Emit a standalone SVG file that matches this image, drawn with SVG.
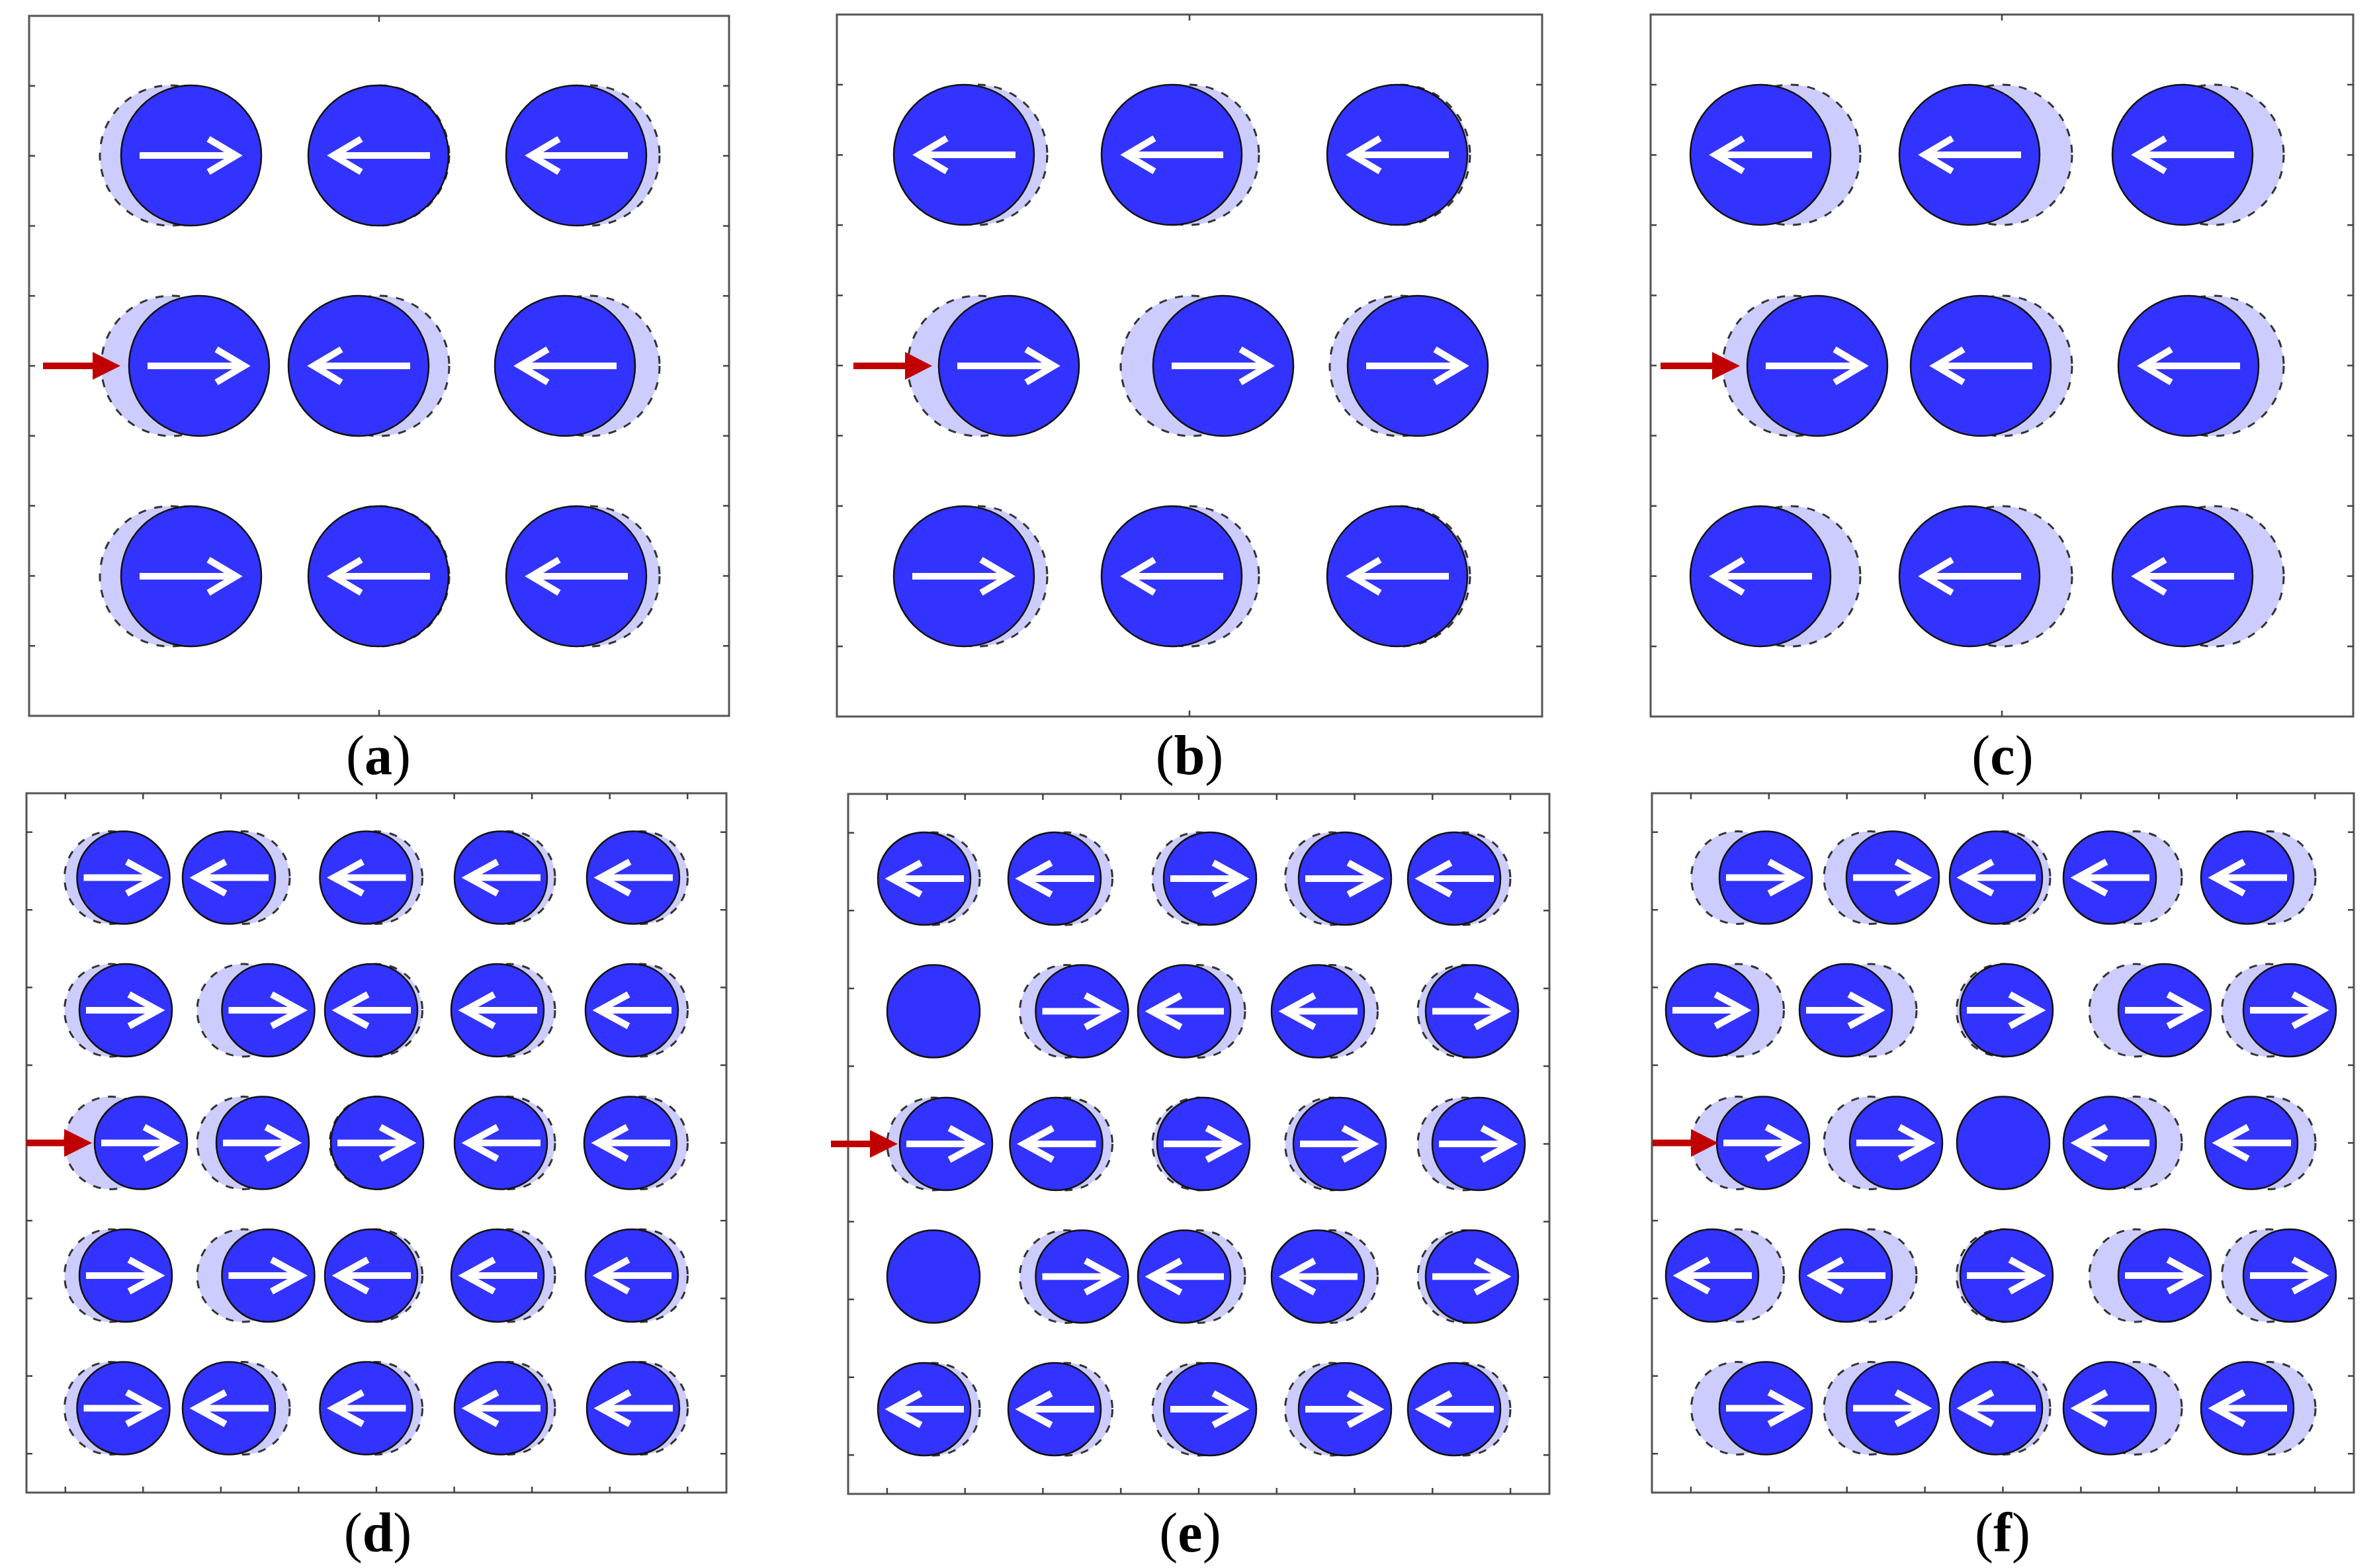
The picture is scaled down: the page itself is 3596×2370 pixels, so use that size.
<svg xmlns="http://www.w3.org/2000/svg" xmlns:xlink="http://www.w3.org/1999/xlink" width="3596" height="2370" viewBox="0 0 3596 2370">
<style>
.g{fill:#ccccff;stroke:#333;stroke-width:3;stroke-dasharray:12 13}
.s{fill:#3333ff;stroke:#111;stroke-width:2.5}
.w{fill:none;stroke:#fff;stroke-width:10;stroke-linejoin:miter;stroke-linecap:butt}
.fr{fill:#fff;stroke:#555;stroke-width:3}
.tk{fill:none;stroke:#444;stroke-width:2.5}
.rl{stroke:#c00000;stroke-width:10}
.rh{fill:#c00000}
.lb{font-family:"Liberation Serif","Times New Roman",serif;font-size:84px;fill:#000;text-anchor:middle}
.lb tspan{font-weight:bold}
</style>
<defs>
<circle id="gB" class="g" r="106"/>
<circle id="sB" class="s" r="106"/>
<circle id="gS" class="g" r="70"/>
<circle id="sS" class="s" r="70"/>
<path id="aBR" class="w" d="M-78 0H68M26-25L68 0L26 25"/>
<path id="aBL" class="w" d="M78 0H-68M-26-25L-68 0L-26 25"/>
<path id="aSR" class="w" d="M-60 0H49M5-24L49 0L5 24"/>
<path id="aSL" class="w" d="M60 0H-49M-5-24L-49 0L-5 24"/>
</defs>
<rect width="3596" height="2370" fill="#fff"/>

<g id="frames">
<rect class="fr" x="44" y="24" width="1058" height="1058"/>
<path class="tk" d="M44 129.8h9M44 235.6h9M44 341.4h9M44 447.2h9M44 553h9M44 658.8h9M44 764.6h9M44 870.4h9M44 976.2h9M1102 129.8h-9M1102 235.6h-9M1102 341.4h-9M1102 447.2h-9M1102 553h-9M1102 658.8h-9M1102 764.6h-9M1102 870.4h-9M1102 976.2h-9M573 24v9M573 1082v-9"/>
<rect class="fr" x="1265" y="22" width="1066" height="1061"/>
<path class="tk" d="M1265 128.1h9M1265 234.2h9M1265 340.3h9M1265 446.4h9M1265 552.5h9M1265 658.6h9M1265 764.7h9M1265 870.8h9M1265 976.9h9M2331 128.1h-9M2331 234.2h-9M2331 340.3h-9M2331 446.4h-9M2331 552.5h-9M2331 658.6h-9M2331 764.7h-9M2331 870.8h-9M2331 976.9h-9M1798 22v9M1798 1083v-9"/>
<rect class="fr" x="2495" y="22" width="1062" height="1061"/>
<path class="tk" d="M2495 128.1h9M2495 234.2h9M2495 340.3h9M2495 446.4h9M2495 552.5h9M2495 658.6h9M2495 764.7h9M2495 870.8h9M2495 976.9h9M3557 128.1h-9M3557 234.2h-9M3557 340.3h-9M3557 446.4h-9M3557 552.5h-9M3557 658.6h-9M3557 764.7h-9M3557 870.8h-9M3557 976.9h-9M3026 22v9M3026 1083v-9"/>
<rect class="fr" x="40" y="1199" width="1058" height="1057"/>
<path class="tk" d="M40 1257.7h9M40 1375.2h9M40 1492.6h9M40 1610h9M40 1727.5h9M40 1845h9M40 1962.4h9M40 2079.8h9M40 2197.3h9M1098 1257.7h-9M1098 1375.2h-9M1098 1492.6h-9M1098 1610h-9M1098 1727.5h-9M1098 1845h-9M1098 1962.4h-9M1098 2079.8h-9M1098 2197.3h-9M98.8 1199v9M216.3 1199v9M333.9 1199v9M451.4 1199v9M569 1199v9M686.6 1199v9M804.1 1199v9M921.7 1199v9M1039.2 1199v9M98.8 2256v-9M216.3 2256v-9M333.9 2256v-9M451.4 2256v-9M569 2256v-9M686.6 2256v-9M804.1 2256v-9M921.7 2256v-9M1039.2 2256v-9"/>
<rect class="fr" x="1282" y="1200" width="1060" height="1058"/>
<path class="tk" d="M1282 1258.8h9M1282 1376.3h9M1282 1493.9h9M1282 1611.4h9M1282 1729h9M1282 1846.6h9M1282 1964.1h9M1282 2081.7h9M1282 2199.2h9M2342 1258.8h-9M2342 1376.3h-9M2342 1493.9h-9M2342 1611.4h-9M2342 1729h-9M2342 1846.6h-9M2342 1964.1h-9M2342 2081.7h-9M2342 2199.2h-9M1340.9 1200v9M1458.7 1200v9M1576.4 1200v9M1694.2 1200v9M1812 1200v9M1929.8 1200v9M2047.6 1200v9M2165.3 1200v9M2283.1 1200v9M1340.9 2258v-9M1458.7 2258v-9M1576.4 2258v-9M1694.2 2258v-9M1812 2258v-9M1929.8 2258v-9M2047.6 2258v-9M2165.3 2258v-9M2283.1 2258v-9"/>
<rect class="fr" x="2497" y="1199" width="1061" height="1057"/>
<path class="tk" d="M2497 1257.7h9M2497 1375.2h9M2497 1492.6h9M2497 1610h9M2497 1727.5h9M2497 1845h9M2497 1962.4h9M2497 2079.8h9M2497 2197.3h9M3558 1257.7h-9M3558 1375.2h-9M3558 1492.6h-9M3558 1610h-9M3558 1727.5h-9M3558 1845h-9M3558 1962.4h-9M3558 2079.8h-9M3558 2197.3h-9M2555.9 1199v9M2673.8 1199v9M2791.7 1199v9M2909.6 1199v9M3027.5 1199v9M3145.4 1199v9M3263.3 1199v9M3381.2 1199v9M3499.1 1199v9M2555.9 2256v-9M2673.8 2256v-9M2791.7 2256v-9M2909.6 2256v-9M3027.5 2256v-9M3145.4 2256v-9M3263.3 2256v-9M3381.2 2256v-9M3499.1 2256v-9"/>
</g>

<!-- panel a -->
<g id="a-r1c1"><use href="#gB" x="257" y="235"/><use href="#sB" x="289" y="235"/><use href="#aBR" x="289" y="235"/></g>
<g id="a-r1c2"><use href="#gB" x="573" y="235"/><use href="#sB" x="572" y="235"/><use href="#aBL" x="572" y="235"/></g>
<g id="a-r1c3"><use href="#gB" x="891" y="235"/><use href="#sB" x="871" y="235"/><use href="#aBL" x="871" y="235"/></g>
<g id="a-r2c1"><use href="#gB" x="259" y="553"/><use href="#sB" x="301" y="553"/><use href="#aBR" x="301" y="553"/></g>
<g id="a-r2c2"><use href="#gB" x="573" y="553"/><use href="#sB" x="542" y="553"/><use href="#aBL" x="542" y="553"/></g>
<g id="a-r2c3"><use href="#gB" x="891" y="553"/><use href="#sB" x="854" y="553"/><use href="#aBL" x="854" y="553"/></g>
<g id="a-r3c1"><use href="#gB" x="257" y="871"/><use href="#sB" x="289" y="871"/><use href="#aBR" x="289" y="871"/></g>
<g id="a-r3c2"><use href="#gB" x="573" y="871"/><use href="#sB" x="572" y="871"/><use href="#aBL" x="572" y="871"/></g>
<g id="a-r3c3"><use href="#gB" x="891" y="871"/><use href="#sB" x="871" y="871"/><use href="#aBL" x="871" y="871"/></g>

<!-- panel b -->
<g id="b-r1c1"><use href="#gB" x="1477" y="234"/><use href="#sB" x="1457" y="234"/><use href="#aBL" x="1457" y="234"/></g>
<g id="b-r1c2"><use href="#gB" x="1797" y="234"/><use href="#sB" x="1771" y="234"/><use href="#aBL" x="1771" y="234"/></g>
<g id="b-r1c3"><use href="#gB" x="2116" y="234"/><use href="#sB" x="2112" y="234"/><use href="#aBL" x="2112" y="234"/></g>
<g id="b-r2c1"><use href="#gB" x="1478" y="553"/><use href="#sB" x="1525" y="553"/><use href="#aBR" x="1525" y="553"/></g>
<g id="b-r2c2"><use href="#gB" x="1800" y="553"/><use href="#sB" x="1849" y="553"/><use href="#aBR" x="1849" y="553"/></g>
<g id="b-r2c3"><use href="#gB" x="2116" y="553"/><use href="#sB" x="2143" y="553"/><use href="#aBR" x="2143" y="553"/></g>
<g id="b-r3c1"><use href="#gB" x="1477" y="871"/><use href="#sB" x="1457" y="871"/><use href="#aBR" x="1457" y="871"/></g>
<g id="b-r3c2"><use href="#gB" x="1797" y="871"/><use href="#sB" x="1771" y="871"/><use href="#aBL" x="1771" y="871"/></g>
<g id="b-r3c3"><use href="#gB" x="2116" y="871"/><use href="#sB" x="2112" y="871"/><use href="#aBL" x="2112" y="871"/></g>

<!-- panel c -->
<g id="c-r1c1"><use href="#gB" x="2706" y="234"/><use href="#sB" x="2661" y="234"/><use href="#aBL" x="2661" y="234"/></g>
<g id="c-r1c2"><use href="#gB" x="3026" y="234"/><use href="#sB" x="2977" y="234"/><use href="#aBL" x="2977" y="234"/></g>
<g id="c-r1c3"><use href="#gB" x="3346" y="234"/><use href="#sB" x="3299" y="234"/><use href="#aBL" x="3299" y="234"/></g>
<g id="c-r2c1"><use href="#gB" x="2710" y="553"/><use href="#sB" x="2747" y="553"/><use href="#aBR" x="2747" y="553"/></g>
<g id="c-r2c2"><use href="#gB" x="3026" y="553"/><use href="#sB" x="2994" y="553"/><use href="#aBL" x="2994" y="553"/></g>
<g id="c-r2c3"><use href="#gB" x="3346" y="553"/><use href="#sB" x="3308" y="553"/><use href="#aBL" x="3308" y="553"/></g>
<g id="c-r3c1"><use href="#gB" x="2706" y="871"/><use href="#sB" x="2661" y="871"/><use href="#aBL" x="2661" y="871"/></g>
<g id="c-r3c2"><use href="#gB" x="3026" y="871"/><use href="#sB" x="2977" y="871"/><use href="#aBL" x="2977" y="871"/></g>
<g id="c-r3c3"><use href="#gB" x="3346" y="871"/><use href="#sB" x="3299" y="871"/><use href="#aBL" x="3299" y="871"/></g>

<!-- panel d -->
<g id="d-r1c1"><use href="#gS" x="167.5" y="1326.5"/><use href="#sS" x="186.5" y="1326.5"/><use href="#aSR" x="186.5" y="1326.5"/></g>
<g id="d-r1c2"><use href="#gS" x="368" y="1326.5"/><use href="#sS" x="346" y="1326.5"/><use href="#aSL" x="346" y="1326.5"/></g>
<g id="d-r1c3"><use href="#gS" x="568.5" y="1326.5"/><use href="#sS" x="553.5" y="1326.5"/><use href="#aSL" x="553.5" y="1326.5"/></g>
<g id="d-r1c4"><use href="#gS" x="769" y="1326.5"/><use href="#sS" x="757" y="1326.5"/><use href="#aSL" x="757" y="1326.5"/></g>
<g id="d-r1c5"><use href="#gS" x="969.5" y="1326.5"/><use href="#sS" x="957" y="1326.5"/><use href="#aSL" x="957" y="1326.5"/></g>
<g id="d-r2c1"><use href="#gS" x="167.5" y="1527"/><use href="#sS" x="190" y="1527"/><use href="#aSR" x="190" y="1527"/></g>
<g id="d-r2c2"><use href="#gS" x="368" y="1527"/><use href="#sS" x="405.5" y="1527"/><use href="#aSR" x="405.5" y="1527"/></g>
<g id="d-r2c3"><use href="#gS" x="568.5" y="1527"/><use href="#sS" x="561" y="1527"/><use href="#aSL" x="561" y="1527"/></g>
<g id="d-r2c4"><use href="#gS" x="769" y="1527"/><use href="#sS" x="752" y="1527"/><use href="#aSL" x="752" y="1527"/></g>
<g id="d-r2c5"><use href="#gS" x="969.5" y="1527"/><use href="#sS" x="955" y="1527"/><use href="#aSL" x="955" y="1527"/></g>
<g id="d-r3c1"><use href="#gS" x="167.5" y="1727.5"/><use href="#sS" x="213" y="1727.5"/><use href="#aSR" x="213" y="1727.5"/></g>
<g id="d-r3c2"><use href="#gS" x="368" y="1727.5"/><use href="#sS" x="397" y="1727.5"/><use href="#aSR" x="397" y="1727.5"/></g>
<g id="d-r3c3"><use href="#gS" x="568.5" y="1727.5"/><use href="#sS" x="570" y="1727.5"/><use href="#aSR" x="570" y="1727.5"/></g>
<g id="d-r3c4"><use href="#gS" x="769" y="1727.5"/><use href="#sS" x="757" y="1727.5"/><use href="#aSL" x="757" y="1727.5"/></g>
<g id="d-r3c5"><use href="#gS" x="969.5" y="1727.5"/><use href="#sS" x="953" y="1727.5"/><use href="#aSL" x="953" y="1727.5"/></g>
<g id="d-r4c1"><use href="#gS" x="167.5" y="1928"/><use href="#sS" x="190" y="1928"/><use href="#aSR" x="190" y="1928"/></g>
<g id="d-r4c2"><use href="#gS" x="368" y="1928"/><use href="#sS" x="405.5" y="1928"/><use href="#aSR" x="405.5" y="1928"/></g>
<g id="d-r4c3"><use href="#gS" x="568.5" y="1928"/><use href="#sS" x="561" y="1928"/><use href="#aSL" x="561" y="1928"/></g>
<g id="d-r4c4"><use href="#gS" x="769" y="1928"/><use href="#sS" x="752" y="1928"/><use href="#aSL" x="752" y="1928"/></g>
<g id="d-r4c5"><use href="#gS" x="969.5" y="1928"/><use href="#sS" x="955" y="1928"/><use href="#aSL" x="955" y="1928"/></g>
<g id="d-r5c1"><use href="#gS" x="167.5" y="2128.5"/><use href="#sS" x="186.5" y="2128.5"/><use href="#aSR" x="186.5" y="2128.5"/></g>
<g id="d-r5c2"><use href="#gS" x="368" y="2128.5"/><use href="#sS" x="346" y="2128.5"/><use href="#aSL" x="346" y="2128.5"/></g>
<g id="d-r5c3"><use href="#gS" x="568.5" y="2128.5"/><use href="#sS" x="553.5" y="2128.5"/><use href="#aSL" x="553.5" y="2128.5"/></g>
<g id="d-r5c4"><use href="#gS" x="769" y="2128.5"/><use href="#sS" x="757" y="2128.5"/><use href="#aSL" x="757" y="2128.5"/></g>
<g id="d-r5c5"><use href="#gS" x="969.5" y="2128.5"/><use href="#sS" x="957" y="2128.5"/><use href="#aSL" x="957" y="2128.5"/></g>

<!-- panel e -->
<g id="e-r1c1"><use href="#gS" x="1411" y="1328"/><use href="#sS" x="1397" y="1328"/><use href="#aSL" x="1397" y="1328"/></g>
<g id="e-r1c2"><use href="#gS" x="1611.5" y="1328"/><use href="#sS" x="1594" y="1328"/><use href="#aSL" x="1594" y="1328"/></g>
<g id="e-r1c3"><use href="#gS" x="1812" y="1328"/><use href="#sS" x="1829" y="1328"/><use href="#aSR" x="1829" y="1328"/></g>
<g id="e-r1c4"><use href="#gS" x="2012.5" y="1328"/><use href="#sS" x="2033" y="1328"/><use href="#aSR" x="2033" y="1328"/></g>
<g id="e-r1c5"><use href="#gS" x="2213" y="1328"/><use href="#sS" x="2198" y="1328"/><use href="#aSL" x="2198" y="1328"/></g>
<g id="e-r2c1"><use href="#sS" x="1411" y="1528.5"/></g>
<g id="e-r2c2"><use href="#gS" x="1611.5" y="1528.5"/><use href="#sS" x="1635.5" y="1528.5"/><use href="#aSR" x="1635.5" y="1528.5"/></g>
<g id="e-r2c3"><use href="#gS" x="1812" y="1528.5"/><use href="#sS" x="1790" y="1528.5"/><use href="#aSL" x="1790" y="1528.5"/></g>
<g id="e-r2c4"><use href="#gS" x="2012.5" y="1528.5"/><use href="#sS" x="1992" y="1528.5"/><use href="#aSL" x="1992" y="1528.5"/></g>
<g id="e-r2c5"><use href="#gS" x="2213" y="1528.5"/><use href="#sS" x="2225" y="1528.5"/><use href="#aSR" x="2225" y="1528.5"/></g>
<g id="e-r3c1"><use href="#gS" x="1411" y="1729"/><use href="#sS" x="1430" y="1729"/><use href="#aSR" x="1430" y="1729"/></g>
<g id="e-r3c2"><use href="#gS" x="1611.5" y="1729"/><use href="#sS" x="1596.5" y="1729"/><use href="#aSL" x="1596.5" y="1729"/></g>
<g id="e-r3c3"><use href="#gS" x="1812" y="1729"/><use href="#sS" x="1819" y="1729"/><use href="#aSR" x="1819" y="1729"/></g>
<g id="e-r3c4"><use href="#gS" x="2012.5" y="1729"/><use href="#sS" x="2025" y="1729"/><use href="#aSR" x="2025" y="1729"/></g>
<g id="e-r3c5"><use href="#gS" x="2213" y="1729"/><use href="#sS" x="2235" y="1729"/><use href="#aSR" x="2235" y="1729"/></g>
<g id="e-r4c1"><use href="#sS" x="1411" y="1929.5"/></g>
<g id="e-r4c2"><use href="#gS" x="1611.5" y="1929.5"/><use href="#sS" x="1635.5" y="1929.5"/><use href="#aSR" x="1635.5" y="1929.5"/></g>
<g id="e-r4c3"><use href="#gS" x="1812" y="1929.5"/><use href="#sS" x="1790" y="1929.5"/><use href="#aSL" x="1790" y="1929.5"/></g>
<g id="e-r4c4"><use href="#gS" x="2012.5" y="1929.5"/><use href="#sS" x="1992" y="1929.5"/><use href="#aSL" x="1992" y="1929.5"/></g>
<g id="e-r4c5"><use href="#gS" x="2213" y="1929.5"/><use href="#sS" x="2225" y="1929.5"/><use href="#aSR" x="2225" y="1929.5"/></g>
<g id="e-r5c1"><use href="#gS" x="1411" y="2130"/><use href="#sS" x="1397" y="2130"/><use href="#aSL" x="1397" y="2130"/></g>
<g id="e-r5c2"><use href="#gS" x="1611.5" y="2130"/><use href="#sS" x="1594" y="2130"/><use href="#aSL" x="1594" y="2130"/></g>
<g id="e-r5c3"><use href="#gS" x="1812" y="2130"/><use href="#sS" x="1829" y="2130"/><use href="#aSR" x="1829" y="2130"/></g>
<g id="e-r5c4"><use href="#gS" x="2012.5" y="2130"/><use href="#sS" x="2033" y="2130"/><use href="#aSR" x="2033" y="2130"/></g>
<g id="e-r5c5"><use href="#gS" x="2213" y="2130"/><use href="#sS" x="2198" y="2130"/><use href="#aSL" x="2198" y="2130"/></g>

<!-- panel f -->
<g id="f-r1c1"><use href="#gS" x="2626.5" y="1326.5"/><use href="#sS" x="2669" y="1326.5"/><use href="#aSR" x="2669" y="1326.5"/></g>
<g id="f-r1c2"><use href="#gS" x="2827" y="1326.5"/><use href="#sS" x="2861" y="1326.5"/><use href="#aSR" x="2861" y="1326.5"/></g>
<g id="f-r1c3"><use href="#gS" x="3029" y="1326.5"/><use href="#sS" x="3017" y="1326.5"/><use href="#aSL" x="3017" y="1326.5"/></g>
<g id="f-r1c4"><use href="#gS" x="3228" y="1326.5"/><use href="#sS" x="3189" y="1326.5"/><use href="#aSL" x="3189" y="1326.5"/></g>
<g id="f-r1c5"><use href="#gS" x="3430" y="1326.5"/><use href="#sS" x="3397" y="1326.5"/><use href="#aSL" x="3397" y="1326.5"/></g>
<g id="f-r2c1"><use href="#gS" x="2626.5" y="1527"/><use href="#sS" x="2588" y="1527"/><use href="#aSR" x="2588" y="1527"/></g>
<g id="f-r2c2"><use href="#gS" x="2827" y="1527"/><use href="#sS" x="2790" y="1527"/><use href="#aSR" x="2790" y="1527"/></g>
<g id="f-r2c3"><use href="#gS" x="3027.5" y="1527"/><use href="#sS" x="3033" y="1527"/><use href="#aSR" x="3033" y="1527"/></g>
<g id="f-r2c4"><use href="#gS" x="3228" y="1527"/><use href="#sS" x="3272" y="1527"/><use href="#aSR" x="3272" y="1527"/></g>
<g id="f-r2c5"><use href="#gS" x="3428.5" y="1527"/><use href="#sS" x="3461" y="1527"/><use href="#aSR" x="3461" y="1527"/></g>
<g id="f-r3c1"><use href="#gS" x="2626.5" y="1727.5"/><use href="#sS" x="2665" y="1727.5"/><use href="#aSR" x="2665" y="1727.5"/></g>
<g id="f-r3c2"><use href="#gS" x="2827" y="1727.5"/><use href="#sS" x="2866" y="1727.5"/><use href="#aSR" x="2866" y="1727.5"/></g>
<g id="f-r3c3"><use href="#sS" x="3028" y="1727.5"/></g>
<g id="f-r3c4"><use href="#gS" x="3228" y="1727.5"/><use href="#sS" x="3189" y="1727.5"/><use href="#aSL" x="3189" y="1727.5"/></g>
<g id="f-r3c5"><use href="#gS" x="3430" y="1727.5"/><use href="#sS" x="3403" y="1727.5"/><use href="#aSL" x="3403" y="1727.5"/></g>
<g id="f-r4c1"><use href="#gS" x="2626.5" y="1928"/><use href="#sS" x="2588" y="1928"/><use href="#aSL" x="2588" y="1928"/></g>
<g id="f-r4c2"><use href="#gS" x="2827" y="1928"/><use href="#sS" x="2790" y="1928"/><use href="#aSL" x="2790" y="1928"/></g>
<g id="f-r4c3"><use href="#gS" x="3027.5" y="1928"/><use href="#sS" x="3033" y="1928"/><use href="#aSR" x="3033" y="1928"/></g>
<g id="f-r4c4"><use href="#gS" x="3228" y="1928"/><use href="#sS" x="3272" y="1928"/><use href="#aSR" x="3272" y="1928"/></g>
<g id="f-r4c5"><use href="#gS" x="3428.5" y="1928"/><use href="#sS" x="3461" y="1928"/><use href="#aSR" x="3461" y="1928"/></g>
<g id="f-r5c1"><use href="#gS" x="2626.5" y="2128.5"/><use href="#sS" x="2669" y="2128.5"/><use href="#aSR" x="2669" y="2128.5"/></g>
<g id="f-r5c2"><use href="#gS" x="2827" y="2128.5"/><use href="#sS" x="2861" y="2128.5"/><use href="#aSR" x="2861" y="2128.5"/></g>
<g id="f-r5c3"><use href="#gS" x="3029" y="2128.5"/><use href="#sS" x="3017" y="2128.5"/><use href="#aSL" x="3017" y="2128.5"/></g>
<g id="f-r5c4"><use href="#gS" x="3228" y="2128.5"/><use href="#sS" x="3189" y="2128.5"/><use href="#aSL" x="3189" y="2128.5"/></g>
<g id="f-r5c5"><use href="#gS" x="3430" y="2128.5"/><use href="#sS" x="3397" y="2128.5"/><use href="#aSL" x="3397" y="2128.5"/></g>

<g id="connectors">
<line class="rl" x1="65" y1="553" x2="142" y2="553"/><polygon class="rh" points="140,532 182,553 140,574"/>
<line class="rl" x1="1290" y1="553" x2="1370" y2="553"/><polygon class="rh" points="1368,532 1409,553 1368,574"/>
<line class="rl" x1="2510" y1="553" x2="2590" y2="553"/><polygon class="rh" points="2588,532 2630,553 2588,574"/>
<line class="rl" x1="40" y1="1727.5" x2="99" y2="1727.5"/><polygon class="rh" points="97,1706.5 139,1727.5 97,1748.5"/>
<line class="rl" x1="1256" y1="1729" x2="1317" y2="1729"/><polygon class="rh" points="1315,1708 1357,1729 1315,1750"/>
<line class="rl" x1="2498" y1="1727.5" x2="2558" y2="1727.5"/><polygon class="rh" points="2556,1706.5 2597,1727.5 2556,1748.5"/>
</g>

<g id="labels">
<text class="lb" x="572" y="1170">(<tspan>a</tspan>)</text>
<text class="lb" x="1798" y="1170">(<tspan>b</tspan>)</text>
<text class="lb" x="3027" y="1170">(<tspan>c</tspan>)</text>
<text class="lb" x="571" y="2345">(<tspan>d</tspan>)</text>
<text class="lb" x="1799" y="2345">(<tspan>e</tspan>)</text>
<text class="lb" x="3027" y="2345">(<tspan>f</tspan>)</text>
</g>
</svg>
